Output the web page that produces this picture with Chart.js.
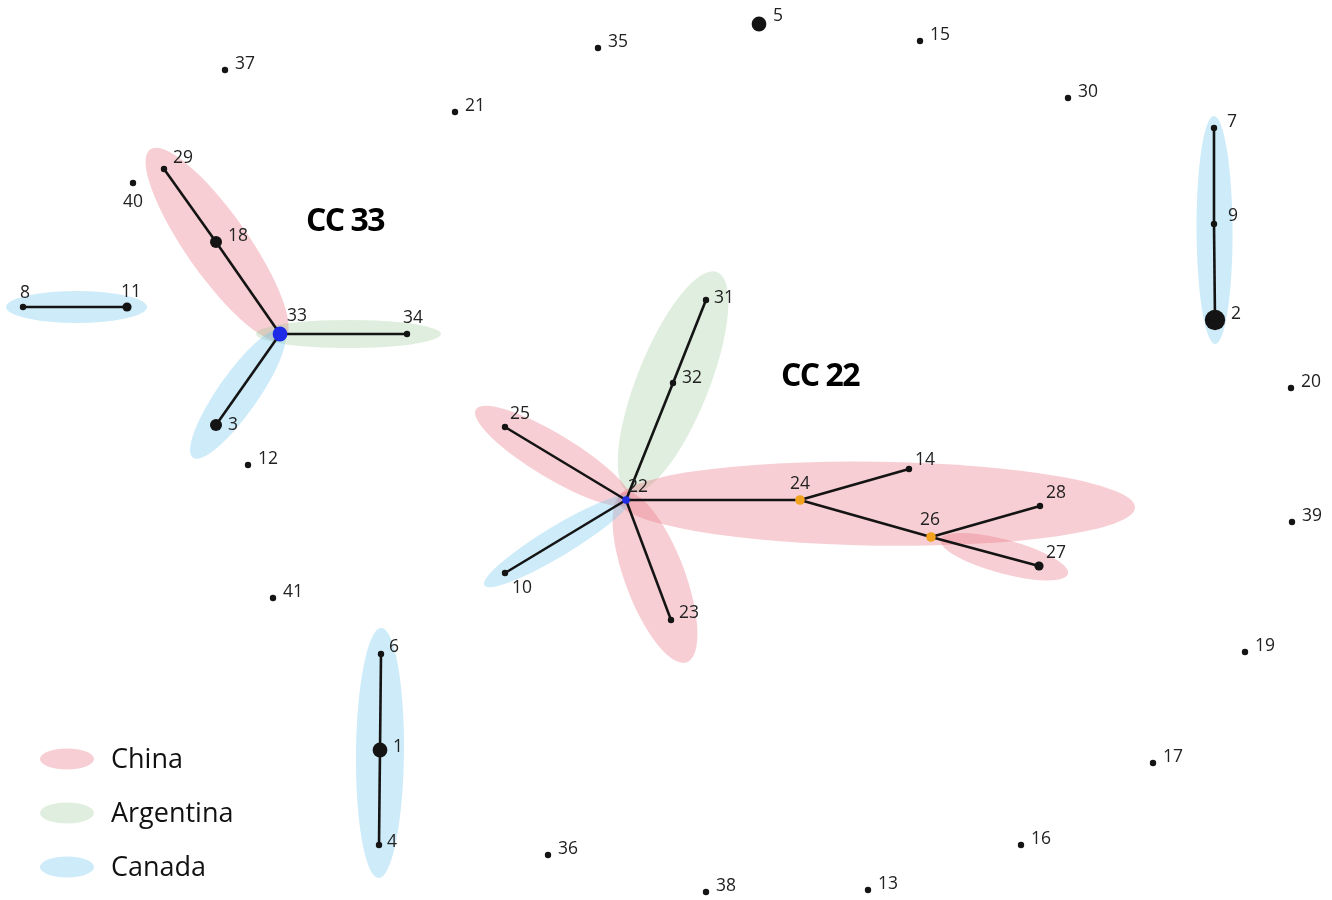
<!DOCTYPE html>
<html>
<head>
<meta charset="utf-8">
<script src="https://cdn.jsdelivr.net/npm/chart.js@4/dist/chart.umd.min.js"></script>
<style>
  html, body { margin: 0; background: #fff; }
  canvas { display: block; }
</style>
</head>
<body>
<canvas id="net" width="1332" height="900"></canvas>
<script>
// --- data: layout coordinates of the spanning tree ---
const NODE_IDS = [1, 2, 3, 4, 5, 6, 7, 8, 9, 10, 11, 12, 13, 14, 15, 16, 17, 18, 19, 20, 21,
  22, 23, 24, 25, 26, 27, 28, 29, 30, 31, 32, 33, 34, 35, 36, 37, 38, 39, 40, 41];
const NODE_X = [380, 1215, 216, 379, 759, 381, 1214, 23, 1214, 505, 127, 248, 868, 909, 920, 1021, 1153, 216, 1245, 1291, 455,
  626, 671, 800, 505, 931, 1039, 1040, 164, 1068, 706, 673, 280, 407, 598, 548, 225, 706, 1292, 133, 273];
const NODE_Y = [750, 320, 425, 845, 24, 654, 128, 307, 224, 573, 307, 465, 890, 469, 41, 845, 763, 242, 652, 388, 112,
  500, 620, 500, 427, 537, 566, 506, 169, 98, 300, 383, 334, 334, 48, 855, 70, 892, 522, 183, 598];
const NODE_WEIGHT = [4, 6, 3, 1, 4, 1, 1, 1, 1, 1, 2, 1, 1, 1, 1, 1, 1, 3, 1, 1, 1,
  1, 1, 1, 1, 2, 2, 1, 1, 1, 1, 1, 4, 1, 1, 1, 1, 1, 1, 1, 1];
const NODE_ROLE = { 22: 'center', 33: 'center', 24: 'bridge', 26: 'bridge' };

const EDGES = [[29, 18], [18, 33], [33, 34], [33, 3], [8, 11],
  [22, 32], [32, 31], [22, 25], [22, 10], [22, 23], [22, 24], [24, 14], [24, 26], [26, 28], [26, 27],
  [7, 9], [9, 2], [6, 1], [1, 4]];

const COUNTRIES = ['China', 'Argentina', 'Canada'];
const HULL_MEMBERS = [[29, 33], [33, 34], [33, 3], [8, 11], [7, 2], [6, 4],
  [22, 31], [22, 25], [22, 28], [26, 27], [22, 23], [22, 10]];
const HULL_COUNTRY = ['China', 'Argentina', 'Canada', 'Canada', 'Canada', 'Canada',
  'Argentina', 'China', 'China', 'China', 'China', 'Canada'];
const COMPLEXES = [['CC 33', 33], ['CC 22', 22]];

// --- styles ---
const COUNTRY_FILL = {
  China: 'rgba(232,120,132,0.36)',
  Argentina: 'rgba(150,200,145,0.30)',
  Canada: 'rgba(120,200,240,0.37)'
};
// [pad at first node, pad at second node, half width]
const HULL_SHAPE = [[24, 7, 31], [24, 34, 14], [5, 40, 20], [17, 20, 16], [12, 24, 18], [26, 33, 24],
  [-8, 30, 36], [5, 34, 22], [8, 95, 42], [-10, 30, 17], [8, 45, 30], [6, 24, 15]];
// [align, dx, dy]
const LABEL_STYLE = {
  1: ['left', 13, -3], 2: ['left', 16, -6], 3: ['left', 12, 0], 4: ['left', 8, -3], 5: ['left', 14, -8],
  6: ['left', 8, -7], 7: ['left', 13, -6], 8: ['center', 2, -14], 11: ['center', 4, -15], 9: ['left', 14, -8],
  10: ['left', 7, 15], 14: ['left', 6, -9], 18: ['left', 12, -6], 22: ['left', 2, -13], 23: ['left', 8, -7],
  24: ['center', 0, -16], 25: ['left', 5, -13], 26: ['center', -1, -17], 27: ['left', 7, -13],
  28: ['left', 6, -13], 29: ['left', 9, -11], 31: ['left', 8, -2], 32: ['left', 9, -5],
  33: ['left', 7, -18], 34: ['center', 6, -16], 40: ['center', 0, 19]
};
const COMPLEX_OFFSET = [[65, -112], [194, -123]];
const EDGE_COLOR = '#141414';

const nodeRadius = w => 1.8 + 1.4 * w;
const nodeColor = id => NODE_ROLE[id] === 'center' ? '#1d2be6' : NODE_ROLE[id] === 'bridge' ? '#f3a21d' : '#141414';
const idx = id => NODE_IDS.indexOf(id);

// edges sit below the nodes (higher order = drawn earlier)
const edgeSets = EDGES.map(([a, b]) => ({
  data: [{ x: NODE_X[idx(a)], y: NODE_Y[idx(a)] }, { x: NODE_X[idx(b)], y: NODE_Y[idx(b)] }],
  showLine: true, borderColor: EDGE_COLOR, borderWidth: 2.6, pointRadius: 0, order: 2
}));

const nodeSet = {
  data: NODE_IDS.map((id, i) => ({ x: NODE_X[i], y: NODE_Y[i], id })),
  pointRadius: NODE_IDS.map((id, i) => {
    if (id === 22) return 3.8;
    if (NODE_ROLE[id] === 'bridge') return 4.8;
    return nodeRadius(NODE_WEIGHT[i]);
  }),
  pointBackgroundColor: NODE_IDS.map(nodeColor),
  pointBorderWidth: 0,
  showLine: false,
  order: 1
};

const hullPlugin = {
  id: 'hulls',
  beforeDatasetsDraw(chart) {
    const { ctx, scales: { x, y } } = chart;
    ctx.save();
    HULL_MEMBERS.forEach(([a, b], i) => {
      const ax = x.getPixelForValue(NODE_X[idx(a)]), ay = y.getPixelForValue(NODE_Y[idx(a)]);
      const bx = x.getPixelForValue(NODE_X[idx(b)]), by = y.getPixelForValue(NODE_Y[idx(b)]);
      const [padA, padB, hw] = HULL_SHAPE[i];
      const len = Math.hypot(bx - ax, by - ay);
      const ux = (bx - ax) / len, uy = (by - ay) / len;
      const sx = ax - ux * padA, sy = ay - uy * padA;
      const ex = bx + ux * padB, ey = by + uy * padB;
      ctx.beginPath();
      ctx.ellipse((sx + ex) / 2, (sy + ey) / 2, Math.hypot(ex - sx, ey - sy) / 2, hw, Math.atan2(uy, ux), 0, Math.PI * 2);
      ctx.fillStyle = COUNTRY_FILL[HULL_COUNTRY[i]];
      ctx.fill();
    });
    ctx.restore();
  },
  afterDatasetsDraw(chart) {
    const { ctx, scales: { x, y } } = chart;
    ctx.save();
    ctx.fillStyle = '#222';
    ctx.font = '17.5px "Open Sans", "Noto Sans", sans-serif';
    ctx.textBaseline = 'middle';
    NODE_IDS.forEach((id, i) => {
      const px = x.getPixelForValue(NODE_X[i]), py = y.getPixelForValue(NODE_Y[i]);
      const [align, dx, dy] = LABEL_STYLE[id] || ['left', 10, -6];
      ctx.textAlign = align;
      ctx.fillText(String(id), px + dx, py + dy);
    });

    // complex names
    ctx.fillStyle = '#000';
    ctx.font = 'bold 32px "Open Sans", sans-serif';
    ctx.textAlign = 'center';
    if ('letterSpacing' in ctx) ctx.letterSpacing = '-1.5px';
    COMPLEXES.forEach(([name, anchor], i) => {
      const px = x.getPixelForValue(NODE_X[idx(anchor)]), py = y.getPixelForValue(NODE_Y[idx(anchor)]);
      ctx.fillText(name, px + COMPLEX_OFFSET[i][0], py + COMPLEX_OFFSET[i][1]);
    });
    if ('letterSpacing' in ctx) ctx.letterSpacing = '0px';

    // legend
    ctx.font = '27px "Open Sans", "Noto Sans", sans-serif';
    ctx.textAlign = 'left';
    COUNTRIES.forEach((c, i) => {
      const cy = 759 + i * 54;
      ctx.beginPath();
      ctx.ellipse(67, cy, 27, 10.5, 0, 0, Math.PI * 2);
      ctx.fillStyle = COUNTRY_FILL[c];
      ctx.fill();
      ctx.fillStyle = '#111';
      ctx.fillText(c, 111, cy + 1);
    });
    ctx.restore();
  }
};

new Chart(document.getElementById('net'), {
  type: 'scatter',
  data: { datasets: [...edgeSets, nodeSet] },
  options: {
    responsive: false,
    animation: false,
    devicePixelRatio: 1,
    layout: { padding: 0, autoPadding: false },
    plugins: { legend: { display: false }, tooltip: { enabled: false } },
    scales: {
      x: { type: 'linear', min: 0, max: 1332, display: false },
      y: { type: 'linear', min: 0, max: 900, reverse: true, display: false }
    }
  },
  plugins: [hullPlugin]
});
</script>
</body>
</html>
